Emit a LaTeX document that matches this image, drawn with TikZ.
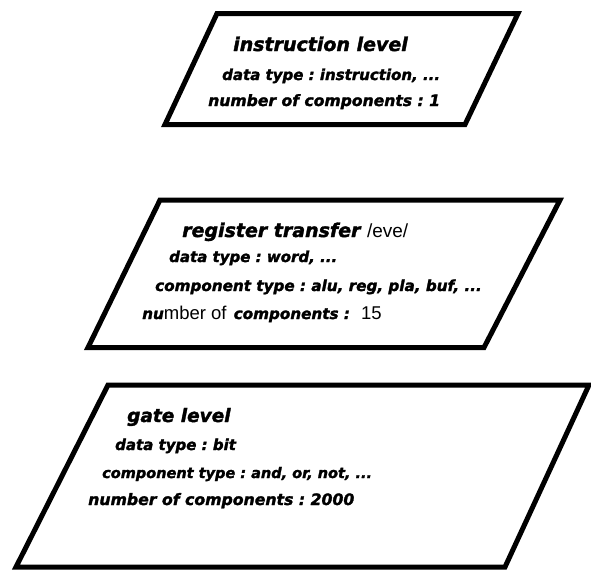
\documentclass[tikz,border=0pt]{standalone}
\usepackage{fontspec}
\setmainfont{DejaVu Sans}[BoldItalicFeatures={FakeBold=1.8}]
\newfontfamily\lightfont{Liberation Sans}
\newcommand{\lt}[1]{{\lightfont\mdseries\upshape #1}}
\newcommand{\ltb}[1]{{\lightfont\mdseries\upshape\fontsize{18.5}{18.5}\selectfont #1}}
\frenchspacing
\tikzset{
  levelbox/.style={draw=black, line width=5pt, line join=miter, miter limit=4},
  hd/.style={anchor=base west, inner sep=0pt, font=\fontsize{#1}{#1}\selectfont\bfseries\itshape},
  tx/.style={anchor=base west, inner sep=0pt, font=\fontsize{#1}{#1}\selectfont\bfseries\itshape},
}
\begin{document}
\begin{tikzpicture}[x=1pt,y=-1pt]
\useasboundingbox (0,0) rectangle (591,570);
% instruction level
\draw[levelbox] (217,13.5) -- (518,13.5) -- (465,124.5) -- (165,124.5) -- cycle;
\node[hd=19] (i1) at (233,51) {instruction level};
\node[tx=15] (i2) at (222,80) {data type : instruction, ...};
\node[tx=15.6] (i3) at (208,106) {number of components : 1};
% register transfer level
\draw[levelbox] (160,200) -- (560,200) -- (484,347.5) -- (88,347.5) -- cycle;
\node[hd=19] (r1) at (182,237) {register transfer \lt{/eve/}};
\node[tx=15] (r2) at (169,262) {data type : word, ...};
\node[tx=15.2] (r3) at (155,291) {component type : alu, reg, pla, buf, ...};
\node[tx=15.2] (r4) at (142,319) {nu\ltb{mber of\hspace{2pt} }components :\ltb{\hspace{6pt} 15}};
% gate level
\draw[levelbox] (108,385) -- (589,385) -- (505,567) -- (16,567) -- cycle;
\node[hd=18.5] (g1) at (127,422) {gate level};
\node[tx=15] (g2) at (115,450) {data type : bit};
\node[tx=14.5] (g3) at (102,478) {component type : and, or, not, ...};
\node[tx=15.7] (g4) at (88,505) {number of components : 2000};
\end{tikzpicture}
\end{document}
